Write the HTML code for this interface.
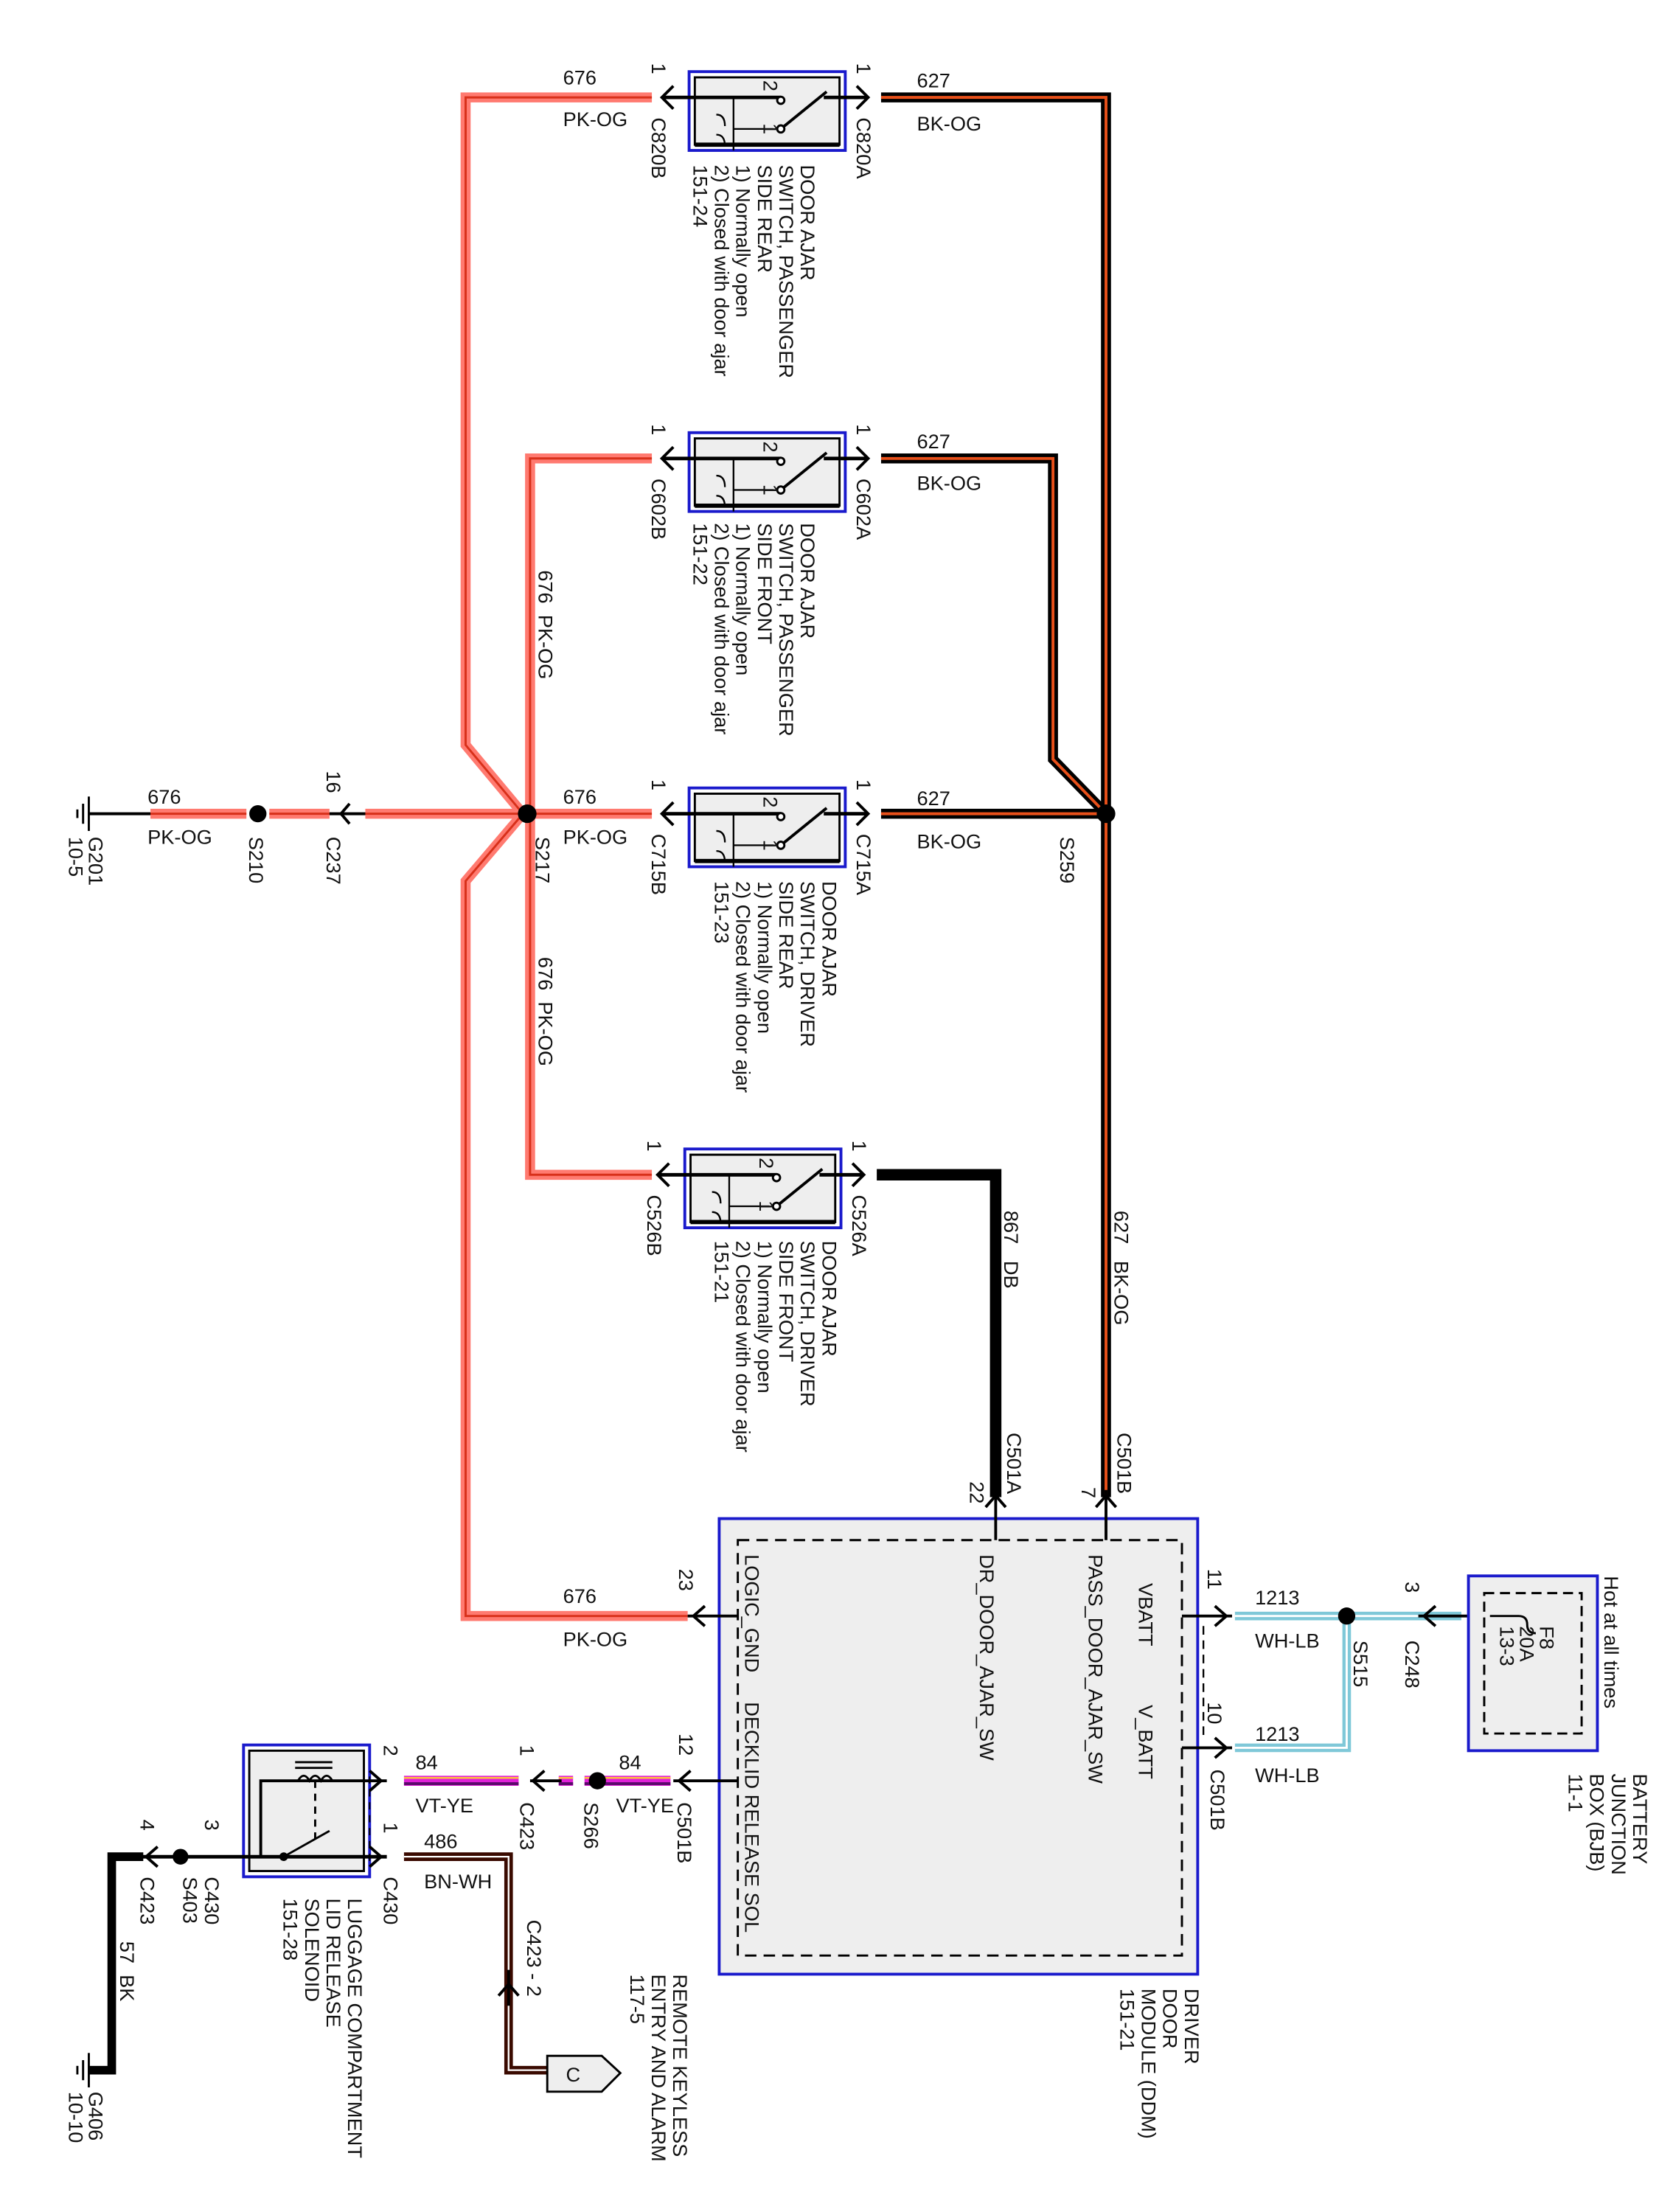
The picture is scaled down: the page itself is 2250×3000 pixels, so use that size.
<!DOCTYPE html>
<html><head><meta charset="utf-8"><style>
html,body{margin:0;padding:0;background:#fff}
svg{display:block}
text{font-family:"Liberation Sans",sans-serif;font-size:14px;fill:#111}
.r{font-size:14px}
</style></head><body>
<svg width="2250" height="3000" viewBox="0 0 1158 1544" xmlns="http://www.w3.org/2000/svg">
<defs>
<g id="sw">
  <rect x="481" y="-18" width="109" height="55" fill="none" stroke="#1a1acc" stroke-width="2"/>
  <rect x="485" y="-14" width="101" height="47" fill="#eee" stroke="#000" stroke-width="1.5"/>
  <line x1="485" y1="33" x2="586" y2="33" stroke="#000" stroke-width="3"/>
  <line x1="462" y1="0" x2="545" y2="0" stroke="#000" stroke-width="2.5"/>
  <line x1="575" y1="0" x2="606" y2="0" stroke="#000" stroke-width="2.5"/>
  <circle cx="545" cy="2" r="2.5" fill="#fff" stroke="#000" stroke-width="1.5"/>
  <line x1="545" y1="22" x2="577" y2="-4" stroke="#000" stroke-width="2"/>
  <circle cx="545" cy="22" r="2.5" fill="#fff" stroke="#000" stroke-width="1.5"/>
  <polyline points="512,0 512,37" fill="none" stroke="#000" stroke-width="1.2"/>
  <polyline points="512,22 540,22" fill="none" stroke="#000" stroke-width="1.2"/>
  <path d="M500,12 q6,0 6,8 M500,26 q6,0 6,8" fill="none" stroke="#000" stroke-width="1.2"/>
  <text transform="translate(533,-12) rotate(90)" font-size="11">2</text>
  <text transform="translate(533,18) rotate(90)" font-size="11">1</text>
  <path d="M470,-8 L462,0 L470,8" fill="none" stroke="#000" stroke-width="2"/>
  <path d="M598,-8 L606,0 L598,8" fill="none" stroke="#000" stroke-width="2"/>
  <text transform="translate(455,-24) rotate(90)">1</text>
  <text transform="translate(598,-24) rotate(90)">1</text>
</g>
</defs>

<!-- PK-OG wires -->
<g fill="none" stroke-linejoin="miter">
<path id="pk" d="M455,68 L325,68 L325,520 L365,568 M455,320 L370,320 L370,568 L370,820 L455,820 M455,568 L255,568 M230,568 L188,568 M172,568 L105,568 M365,568 L325,615 L325,1128 L480,1128" stroke="#ff7a70" stroke-width="7"/>
<path d="M455,68 L325,68 L325,520 L365,568 M455,320 L370,320 L370,568 L370,820 L455,820 M455,568 L255,568 M230,568 L188,568 M172,568 L105,568 M365,568 L325,615 L325,1128 L480,1128" stroke="#d8301a" stroke-width="1.5"/>
</g>
<!-- BK-OG -->
<g fill="none">
<path d="M615,68 L772,68 L772,1045 M615,320 L735,320 L735,530 L772,568 M615,568 L772,568" stroke="#000" stroke-width="7"/>
<path d="M615,68 L772,68 L772,1045 M615,320 L735,320 L735,530 L772,568 M615,568 L772,568" stroke="#e8501a" stroke-width="2"/>
<path d="M612,820 L695,820 L695,1045" stroke="#000" stroke-width="8"/>
</g>
<line x1="62" y1="568" x2="105" y2="568" stroke="#000" stroke-width="2"/>
<line x1="230" y1="568" x2="255" y2="568" stroke="#000" stroke-width="2"/>
<path d="M244,561 L238,568 L244,575" fill="none" stroke="#000" stroke-width="2"/>
<!-- ground G201 -->
<g stroke="#000" stroke-width="1.5"><line x1="62" y1="556" x2="62" y2="580"/><line x1="58" y1="561" x2="58" y2="575"/><line x1="54" y1="565" x2="54" y2="571"/></g>

<circle cx="180" cy="568" r="6" fill="#000"/>
<circle cx="368" cy="568" r="6.5" fill="#000"/>
<circle cx="772" cy="568" r="6.5" fill="#000"/>

<use href="#sw" transform="translate(0,68)"/>
<use href="#sw" transform="translate(0,320)"/>
<use href="#sw" transform="translate(0,568)"/>
<use href="#sw" transform="translate(-3,820)"/>

<!-- wire labels -->
<text x="393" y="59">676</text><text x="393" y="88">PK-OG</text>
<text x="640" y="61">627</text><text x="640" y="91">BK-OG</text>
<text x="640" y="313">627</text><text x="640" y="342">BK-OG</text>
<text x="393" y="561">676</text><text x="393" y="589">PK-OG</text>
<text x="640" y="562">627</text><text x="640" y="592">BK-OG</text>
<text x="103" y="561">676</text><text x="103" y="589">PK-OG</text>
<text x="393" y="1119">676</text><text x="393" y="1149">PK-OG</text>
<text transform="translate(376,398) rotate(90)">676&#160;&#160;PK-OG</text>
<text transform="translate(376,668) rotate(90)">676&#160;&#160;PK-OG</text>
<text transform="translate(701,845) rotate(90)">867&#160;&#160;&#160;DB</text>
<text transform="translate(778,845) rotate(90)">627&#160;&#160;&#160;BK-OG</text>

<!-- connector labels -->
<text transform="translate(455,82) rotate(90)">C820B</text>
<text transform="translate(598,82) rotate(90)">C820A</text>
<text transform="translate(455,334) rotate(90)">C602B</text>
<text transform="translate(598,334) rotate(90)">C602A</text>
<text transform="translate(455,582) rotate(90)">C715B</text>
<text transform="translate(598,582) rotate(90)">C715A</text>
<text transform="translate(452,834) rotate(90)">C526B</text>
<text transform="translate(595,834) rotate(90)">C526A</text>
<text transform="translate(228,538) rotate(90)">16</text>
<text transform="translate(228,584) rotate(90)">C237</text>
<text transform="translate(174,584) rotate(90)">S210</text>
<text transform="translate(374,584) rotate(90)">S217</text>
<text transform="translate(740,584) rotate(90)">S259</text>
<text transform="translate(62,584) rotate(90)">G201</text>
<text transform="translate(48,584) rotate(90)">10-5</text>

<!-- component labels -->
<g>
<text transform="translate(559,115) rotate(90)">DOOR AJAR</text>
<text transform="translate(544,115) rotate(90)">SWITCH, PASSENGER</text>
<text transform="translate(529,115) rotate(90)">SIDE REAR</text>
<text transform="translate(514,115) rotate(90)">1) Normally open</text>
<text transform="translate(499,115) rotate(90)">2) Closed with door ajar</text>
<text transform="translate(484,115) rotate(90)">151-24</text>

<text transform="translate(559,365) rotate(90)">DOOR AJAR</text>
<text transform="translate(544,365) rotate(90)">SWITCH, PASSENGER</text>
<text transform="translate(529,365) rotate(90)">SIDE FRONT</text>
<text transform="translate(514,365) rotate(90)">1) Normally open</text>
<text transform="translate(499,365) rotate(90)">2) Closed with door ajar</text>
<text transform="translate(484,365) rotate(90)">151-22</text>

<text transform="translate(574,615) rotate(90)">DOOR AJAR</text>
<text transform="translate(559,615) rotate(90)">SWITCH, DRIVER</text>
<text transform="translate(544,615) rotate(90)">SIDE REAR</text>
<text transform="translate(529,615) rotate(90)">1) Normally open</text>
<text transform="translate(514,615) rotate(90)">2) Closed with door ajar</text>
<text transform="translate(499,615) rotate(90)">151-23</text>

<text transform="translate(574,866) rotate(90)">DOOR AJAR</text>
<text transform="translate(559,866) rotate(90)">SWITCH, DRIVER</text>
<text transform="translate(544,866) rotate(90)">SIDE FRONT</text>
<text transform="translate(529,866) rotate(90)">1) Normally open</text>
<text transform="translate(514,866) rotate(90)">2) Closed with door ajar</text>
<text transform="translate(499,866) rotate(90)">151-21</text>
</g>

<!-- DDM -->
<rect x="502" y="1060" width="334" height="318" fill="#eee" stroke="#1a1acc" stroke-width="2"/>
<rect x="515" y="1075" width="310" height="290" fill="none" stroke="#000" stroke-width="1.5" stroke-dasharray="8,5"/>
<g stroke="#000" stroke-width="2" fill="none">
<line x1="695" y1="1040" x2="695" y2="1075"/><path d="M688,1052 L695,1044 L702,1052"/>
<line x1="772" y1="1040" x2="772" y2="1075"/><path d="M765,1052 L772,1044 L779,1052"/>
<line x1="480" y1="1128" x2="515" y2="1128"/><path d="M492,1121 L484,1128 L492,1135"/>
<line x1="470" y1="1243" x2="515" y2="1243"/><path d="M482,1236 L474,1243 L482,1250"/>
<line x1="825" y1="1128" x2="860" y2="1128"/><path d="M848,1121 L856,1128 L848,1135"/>
<line x1="825" y1="1220" x2="860" y2="1220"/><path d="M848,1213 L856,1220 L848,1227"/>
<line x1="840" y1="1135" x2="840" y2="1215" stroke-dasharray="6,4" stroke-width="1.2"/>
</g>
<text transform="translate(677,1034) rotate(90)">22</text>
<text transform="translate(755,1038) rotate(90)">7</text>
<text transform="translate(703,1000) rotate(90)">C501A</text>
<text transform="translate(780,1000) rotate(90)">C501B</text>
<text transform="translate(474,1095) rotate(90)">23</text>
<text transform="translate(474,1210) rotate(90)">12</text>
<text transform="translate(843,1095) rotate(90)">11</text>
<text transform="translate(843,1188) rotate(90)">10</text>
<text transform="translate(520,1085) rotate(90)">LOGIC_GND</text>
<text transform="translate(520,1188) rotate(90)">DECKLID RELEASE SOL</text>
<text transform="translate(684,1085) rotate(90)">DR_DOOR_AJAR_SW</text>
<text transform="translate(760,1085) rotate(90)">PASS_DOOR_AJAR_SW</text>
<text transform="translate(795,1105) rotate(90)">VBATT</text>
<text transform="translate(795,1190) rotate(90)">V_BATT</text>
<text transform="translate(827,1388) rotate(90)">DRIVER</text>
<text transform="translate(812,1388) rotate(90)">DOOR</text>
<text transform="translate(797,1388) rotate(90)">MODULE (DDM)</text>
<text transform="translate(782,1388) rotate(90)">151-21</text>

<!-- WH-LB -->
<g fill="none">
<path d="M862,1128 L1020,1128 M940,1128 L940,1220 L862,1220" stroke="#7fc8d8" stroke-width="6"/>
<path d="M862,1128 L1020,1128 M940,1128 L940,1220 L862,1220" stroke="#fff" stroke-width="1.5"/>
</g>
<line x1="990" y1="1128" x2="1040" y2="1128" stroke="#000" stroke-width="2"/>
<path d="M1002,1121 L994,1128 L1002,1135" fill="none" stroke="#000" stroke-width="2"/>
<circle cx="940" cy="1128" r="6" fill="#000"/>
<text x="876" y="1120">1213</text><text x="876" y="1150">WH-LB</text>
<text x="876" y="1215">1213</text><text x="876" y="1244">WH-LB</text>
<text transform="translate(845,1235) rotate(90)">C501B</text>
<text transform="translate(945,1145) rotate(90)">S515</text>
<text transform="translate(981,1104) rotate(90)">3</text>
<text transform="translate(981,1145) rotate(90)">C248</text>
<rect x="1025" y="1100" width="90" height="122" fill="#eee" stroke="#1a1acc" stroke-width="2"/>
<rect x="1036" y="1112" width="68" height="98" fill="none" stroke="#000" stroke-width="1.5" stroke-dasharray="7,4"/>
<path d="M1040,1128 L1060,1128 q6,0 6,6 q0,6 6,6" fill="none" stroke="#000" stroke-width="1.5"/>
<text transform="translate(1075,1135) rotate(90)">F8</text>
<text transform="translate(1061,1135) rotate(90)">20A</text>
<text transform="translate(1047,1135) rotate(90)">13-3</text>
<text transform="translate(1120,1100) rotate(90)">Hot at all times</text>
<text transform="translate(1140,1238) rotate(90)">BATTERY</text>
<text transform="translate(1125,1238) rotate(90)">JUNCTION</text>
<text transform="translate(1110,1238) rotate(90)">BOX (BJB)</text>
<text transform="translate(1095,1238) rotate(90)">11-1</text>

<!-- VT-YE -->
<g fill="none">
<path d="M468,1243 L408,1243 M400,1243 L390,1243 M362,1243 L282,1243" stroke="#e020d8" stroke-width="7"/>
<path d="M468,1245 L408,1245 M400,1245 L390,1245 M362,1245 L282,1245" stroke="#5a0a6a" stroke-width="2"/>
<path d="M468,1241 L408,1241 M400,1241 L390,1241 M362,1241 L282,1241" stroke="#ffd030" stroke-width="1.2"/>
</g>
<line x1="370" y1="1243" x2="392" y2="1243" stroke="#000" stroke-width="2"/>
<path d="M380,1236 L372,1243 L380,1250" fill="none" stroke="#000" stroke-width="2"/>
<circle cx="417" cy="1243" r="6" fill="#000"/>
<text x="290" y="1235">84</text><text x="290" y="1265">VT-YE</text>
<text x="432" y="1235">84</text><text x="430" y="1265">VT-YE</text>
<text transform="translate(363,1218) rotate(90)">1</text>
<text transform="translate(363,1258) rotate(90)">C423</text>
<text transform="translate(408,1258) rotate(90)">S266</text>
<text transform="translate(473,1258) rotate(90)">C501B</text>

<!-- luggage -->
<rect x="170" y="1218" width="88" height="92" fill="none" stroke="#1a1acc" stroke-width="2"/>
<rect x="174" y="1222" width="80" height="84" fill="#eee" stroke="#000" stroke-width="1.5"/>
<g stroke="#000" fill="none" stroke-width="1.5">
<line x1="206" y1="1230" x2="232" y2="1230"/><line x1="206" y1="1234" x2="232" y2="1234"/>
<path d="M208,1243 q4,-7 8,0 q4,-7 8,0 q4,-7 8,0"/>
<line x1="220" y1="1243" x2="220" y2="1285" stroke-dasharray="5,4"/>
<polyline points="182,1296 182,1243 270,1243" stroke-width="2"/>
<line x1="198" y1="1296" x2="230" y2="1278"/>
<path d="M258,1236 L266,1243 L258,1250 M258,1289 L266,1296 L258,1303" stroke-width="2"/>
<line x1="258" y1="1240" x2="258" y2="1300" stroke-dasharray="5,4" stroke-width="1"/>
</g>
<line x1="90" y1="1296" x2="270" y2="1296" stroke="#000" stroke-width="2.5"/>
<circle cx="198" cy="1296" r="3" fill="#000"/>
<text transform="translate(268,1218) rotate(90)">2</text>
<text transform="translate(268,1272) rotate(90)">1</text>
<text transform="translate(268,1310) rotate(90)">C430</text>
<text x="296" y="1290">486</text><text x="296" y="1318">BN-WH</text>
<path d="M282,1296 L355,1296 L355,1445 L382,1445" fill="none" stroke="#3a0a00" stroke-width="6"/>
<path d="M282,1296 L355,1296 L355,1445 L382,1445" fill="none" stroke="#fff" stroke-width="1.2"/>
<line x1="355" y1="1375" x2="355" y2="1400" stroke="#000" stroke-width="2"/>
<path d="M348,1393 L355,1385 L362,1393" fill="none" stroke="#000" stroke-width="2"/>
<text transform="translate(368,1340) rotate(90)">C423 - 2</text>
<path d="M382,1435 L420,1435 L433,1447 L420,1460 L382,1460 Z" fill="#eee" stroke="#000" stroke-width="1.5"/>
<text x="395" y="1453">C</text>
<text transform="translate(470,1378) rotate(90)">REMOTE KEYLESS</text>
<text transform="translate(455,1378) rotate(90)">ENTRY AND ALARM</text>
<text transform="translate(440,1378) rotate(90)">117-5</text>
<text transform="translate(243,1325) rotate(90)">LUGGAGE COMPARTMENT</text>
<text transform="translate(228,1325) rotate(90)">LID RELEASE</text>
<text transform="translate(213,1325) rotate(90)">SOLENOID</text>
<text transform="translate(198,1325) rotate(90)">151-28</text>

<!-- left ground -->
<circle cx="126" cy="1296" r="5.5" fill="#000"/>
<path d="M110,1289 L102,1296 L110,1303" fill="none" stroke="#000" stroke-width="2"/>
<path d="M100,1296 L78,1296 L78,1445 L62,1445" fill="none" stroke="#000" stroke-width="6"/>
<g stroke="#000" stroke-width="1.5"><line x1="62" y1="1433" x2="62" y2="1457"/><line x1="58" y1="1438" x2="58" y2="1452"/><line x1="54" y1="1442" x2="54" y2="1448"/></g>
<text transform="translate(143,1270) rotate(90)">3</text>
<text transform="translate(143,1310) rotate(90)">C430</text>
<text transform="translate(128,1310) rotate(90)">S403</text>
<text transform="translate(98,1270) rotate(90)">4</text>
<text transform="translate(98,1310) rotate(90)">C423</text>
<text transform="translate(84,1355) rotate(90)">57&#160;&#160;BK</text>
<text transform="translate(62,1460) rotate(90)">G406</text>
<text transform="translate(48,1460) rotate(90)">10-10</text>
</svg>
</body></html>
